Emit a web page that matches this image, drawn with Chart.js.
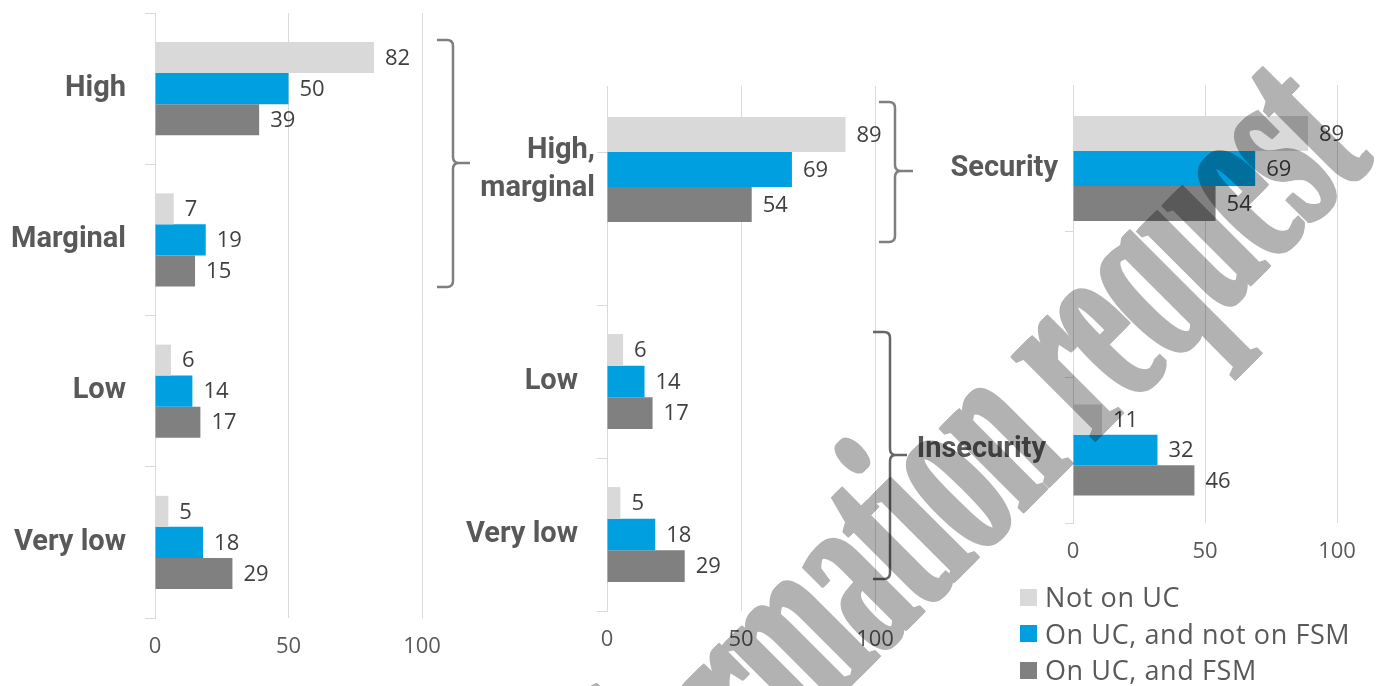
<!DOCTYPE html>
<html><head><meta charset="utf-8">
<script src="https://cdn.jsdelivr.net/npm/chart.js@4.4.1/dist/chart.umd.min.js"></script>
<style>
html,body{margin:0;padding:0;background:#fff;width:1379px;height:686px;overflow:hidden;position:relative}
canvas{position:absolute}
.lg{position:absolute;display:flex;align-items:center;font:27px "Open Sans";letter-spacing:0.6px;color:#595959;white-space:nowrap;height:36px;line-height:36px}
.sw{width:17px;height:17px;margin-right:8px;flex:none}
</style></head><body>
<canvas id="cA"></canvas>
<canvas id="cBb"></canvas>
<canvas id="cBt"></canvas>
<canvas id="cCb"></canvas>
<canvas id="cCt"></canvas>
<canvas id="braces" width="1379" height="686" style="left:0;top:0"></canvas>
<div id="legend"></div>
<canvas id="wm" width="1379" height="686" style="left:0;top:0;pointer-events:none"></canvas>
<script>
// ---------- data ----------
const seriesNames = ['Not on UC', 'On UC, and not on FSM', 'On UC, and FSM'];
const seriesColors = ['#D9D9D9', '#009FDF', '#808080'];

const levels = ['High', 'Marginal', 'Low', 'Very low'];
const levelsNotOnUC = [82, 7, 6, 5];
const levelsOnUCNoFSM = [50, 19, 14, 18];
const levelsOnUCFSM = [39, 15, 17, 29];

const grouped = [['High,', 'marginal'], 'Low', 'Very low'];
const groupedNotOnUC = [89, 6, 5];
const groupedOnUCNoFSM = [69, 14, 18];
const groupedOnUCFSM = [54, 17, 29];

const status = ['Security', 'Insecurity'];
const statusNotOnUC = [89, 11];
const statusOnUCNoFSM = [69, 32];
const statusOnUCFSM = [54, 46];

const xTickValues = [0, 50, 100];

// ---------- value labels plugin ----------
const valueLabels = {
  id: 'valueLabels',
  afterDatasetsDraw(chart) {
    const ctx = chart.ctx;
    ctx.save();
    ctx.font = '22px "Open Sans"';
    ctx.fillStyle = '#404040';
    ctx.textBaseline = 'middle';
    ctx.textAlign = 'left';
    chart.data.datasets.forEach((ds, i) => {
      chart.getDatasetMeta(i).data.forEach((bar, j) => {
        const v = ds.data[j];
        if (v === null || v === undefined) return;
        ctx.fillText(String(v), bar.x + 11, bar.y + 1);
      });
    });
    ctx.restore();
  }
};

function makeChart(id, o) {
  const cv = document.getElementById(id);
  cv.width = o.w; cv.height = o.h;
  cv.style.left = o.x + 'px'; cv.style.top = o.y + 'px';
  const yW = o.pl - o.x, xH = o.y + o.h - o.pb;
  const datasets = o.series.map((d, i) => ({
    label: seriesNames[i], data: d, backgroundColor: seriesColors[i],
    borderWidth: 0, categoryPercentage: o.cat, barPercentage: 1
  }));
  return new Chart(cv, {
    type: 'bar',
    data: { labels: o.labels, datasets },
    options: {
      indexAxis: 'y', responsive: false, animation: false, devicePixelRatio: 1,
      layout: { padding: { left: 0, top: o.pt - o.y, right: o.x + o.w - o.pr, bottom: 0 } },
      plugins: { legend: { display: false }, tooltip: { enabled: false } },
      scales: {
        x: {
          min: 0, max: 100,
          afterBuildTicks: s => { s.ticks = xTickValues.map(v => ({ value: v })); },
          afterFit: s => { s.height = xH; s.paddingLeft = 0; s.paddingRight = 0; },
          grid: { color: '#D9D9D9', lineWidth: 1, drawTicks: false },
          border: { display: false },
          ticks: { display: o.xLabels, padding: 16, color: '#595959', font: { family: '"Open Sans"', size: 22 } }
        },
        y: {
          afterFit: s => { s.width = yW; s.paddingTop = 0; s.paddingBottom = 0; },
          grid: { display: o.yTicks, drawOnChartArea: false, drawTicks: o.yTicks, tickLength: o.tl || 0, color: '#D9D9D9' },
          border: { display: true, color: '#D9D9D9' },
          ticks: { padding: o.lp, color: '#595959', autoSkip: false, font: { family: 'Roboto', weight: 'bold', size: 29, lineHeight: 1.3 } }
        }
      }
    },
    plugins: [valueLabels]
  });
}

// Left panel: four levels
makeChart('cA', { x: 0, y: 0, w: 460, h: 686, pl: 155, pr: 422, pt: 13, pb: 618, cat: 0.615, tl: 10, lp: 19, yTicks: true, xLabels: true,
  labels: levels, series: [levelsNotOnUC, levelsOnUCNoFSM, levelsOnUCFSM] });

// Middle panel: lower part (Low, Very low)
makeChart('cBb', { x: 440, y: 0, w: 480, h: 686, pl: 607, pr: 875, pt: 152, pb: 611, cat: 0.62, tl: 10, lp: 19, yTicks: true, xLabels: true,
  labels: [''].concat(grouped.slice(1)),
  series: [groupedNotOnUC, groupedOnUCNoFSM, groupedOnUCFSM].map(a => [null].concat(a.slice(1))) });
// Middle panel: High, marginal
makeChart('cBt', { x: 440, y: 0, w: 480, h: 300, pl: 607, pr: 875, pt: 86, pb: 253, cat: 0.629, lp: 12, yTicks: false, xLabels: false,
  labels: [grouped[0]],
  series: [groupedNotOnUC, groupedOnUCNoFSM, groupedOnUCFSM].map(a => [a[0]]) });

// Right panel: Insecurity
makeChart('cCb', { x: 880, y: 0, w: 499, h: 686, pl: 1073, pr: 1337, pt: 231, pb: 523, cat: 0.623, tl: 8, lp: 19, yTicks: true, xLabels: true,
  labels: ['', status[1]],
  series: [statusNotOnUC, statusOnUCNoFSM, statusOnUCFSM].map(a => [null, a[1]]) });
// Right panel: Security
makeChart('cCt', { x: 880, y: 0, w: 499, h: 300, pl: 1073, pr: 1337, pt: 85, pb: 252, cat: 0.629, lp: 15, yTicks: false, xLabels: false,
  labels: [status[0]],
  series: [statusNotOnUC, statusOnUCNoFSM, statusOnUCFSM].map(a => [a[0]]) });

// ---------- braces ----------
(function () {
  const ctx = document.getElementById('braces').getContext('2d');
  function brace(xl, xv, xt, yt, ym, yb, col) {
    const r = 6;
    ctx.strokeStyle = col; ctx.lineWidth = 2.5; ctx.lineCap = 'butt'; ctx.lineJoin = 'round';
    ctx.beginPath();
    ctx.moveTo(xl, yt);
    ctx.lineTo(xv - r, yt);
    ctx.quadraticCurveTo(xv, yt, xv, yt + r);
    ctx.lineTo(xv, ym - r);
    ctx.quadraticCurveTo(xv, ym, xv + r, ym);
    ctx.lineTo(xt, ym);
    ctx.moveTo(xv + r, ym);
    ctx.quadraticCurveTo(xv, ym, xv, ym + r);
    ctx.lineTo(xv, yb - r);
    ctx.quadraticCurveTo(xv, yb, xv - r, yb);
    ctx.lineTo(xl, yb);
    ctx.stroke();
  }
  brace(437, 453, 470, 40, 163, 287, '#7F7F7F');
  brace(879, 895, 913, 102, 171, 242, '#7F7F7F');
  brace(873, 890, 907, 332, 455, 579, '#666666');
})();

// ---------- legend ----------
(function () {
  const lg = document.getElementById('legend');
  seriesNames.forEach((n, i) => {
    const row = document.createElement('div');
    row.className = 'lg';
    row.style.left = '1020px';
    row.style.top = (597 + i * 36.5 - 18) + 'px';
    const sw = document.createElement('span');
    sw.className = 'sw'; sw.style.background = seriesColors[i];
    const tx = document.createElement('span');
    tx.textContent = n;
    row.appendChild(sw); row.appendChild(tx);
    lg.appendChild(row);
  });
})();

// ---------- watermark ----------
(function () {
  const W = 1379, H = 686;
  const off = document.createElement('canvas');
  off.width = W; off.height = H;
  const o = off.getContext('2d');
  const text = 'Information request';
  o.font = 'bold 262px "Liberation Serif"';
  const tw = o.measureText('t').width / 2;
  const w7 = o.measureText('Informa').width + tw;
  const w18 = o.measureText('Information reques').width + tw;
  const uA = 241.8, uB = 836.6, v0 = 1087;
  const sx = (uB - uA) / (w18 - w7);
  const u0 = uA - sx * w7;
  const x0 = (u0 + v0) / Math.SQRT2, y0 = (v0 - u0) / Math.SQRT2;
  o.fillStyle = '#000';
  const smear = 7;
  for (let d = 0; d <= smear; d++) {
    o.save();
    o.translate(x0, y0);
    o.rotate(-Math.PI / 4);
    o.translate(d - smear / 2, 0);
    o.scale(sx, 1);
    o.fillText(text, 0, 0);
    o.restore();
  }
  const wm = document.getElementById('wm').getContext('2d');
  wm.globalAlpha = 0.3;
  wm.drawImage(off, 0, 0);
})();
</script>
</body></html>
